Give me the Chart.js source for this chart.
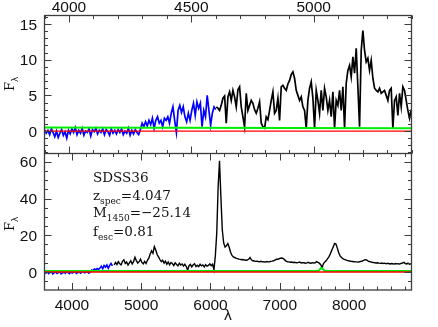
<!DOCTYPE html>
<html>
<head>
<meta charset="utf-8">
<title>SDSS36 spectrum</title>
<script src="https://cdn.jsdelivr.net/npm/chart.js@4.4.1/dist/chart.umd.min.js"></script>
<style>
  html, body { margin: 0; padding: 0; background: #fff; }
  #wrap { position: relative; width: 438px; height: 327px; overflow: hidden; background: #fff; }
  #wrap canvas { position: absolute; left: 0; }
  #top-chart { top: 0; }
  #bottom-chart { top: 153px; }
</style>
</head>
<body>
<div id="wrap">
  <canvas id="top-chart" width="438" height="154"></canvas>
  <canvas id="bottom-chart" width="438" height="174"></canvas>
</div>
<script>
// tick labels
const topXTicks = [4000, 4500, 5000];
const topYTicks = [0, 5, 10, 15];
const botXTicks = [4000, 5000, 6000, 7000, 8000];
const botYTicks = [0, 20, 40, 60];

// top panel (zoom on the Lyman limit region)
const topBlueStart = 3900, topBlueStep = 7;
const topBlueFlux = [
    0.2, -0.3, 0.1, -0.5, 0.3, -0.2, -0.8, 0.0, -0.9, -0.3, 0.2, -0.6, -0.1, -1.0, 0.1,
    -0.4, 0.3, -0.2, 0.5, -0.5, 0.1, -0.3, 0.4, -0.6, 0.0, -0.2, 0.3, -0.7, 0.2, -0.1,
    0.4, -0.4, 0.1, -0.2, 0.3, -0.5, 0.2, -0.1, -0.6, 0.3, -0.3, 0.1, -0.4, 0.2, -0.2,
    0.3, -0.5, 0.0, -0.3, 0.4, -0.6, 0.1, -0.4, 0.2, -0.2, -0.5, 0.2,
    1.1, 0.6, 1.3, 0.7, 1.5, 0.9, 1.8, 0.4, 1.5, 2.0, 1.1, 1.5, 0.6, 1.8, 1.5,
    2.0, 1.1, 2.5, 3.4, 1.5, -0.2, 2.9, 3.6, 2.6, 3.4, 2.0, 1.3, 2.5, 1.5, 2.9,
    3.9, 2.2, 4.1, 3.2, 3.9, 0.6, 2.9, 2.0, 5.0, 2.9, 0.8, 2.5, 3.4, 3.0
];
const topBlackStart = 4602, topBlackStep = 6.81;
const topBlackFlux = [
    3.4, 3.2, 2.9, 3.6, 4.6, 4.9, 1.1, 4.8, 5.5, 4.3, 5.7, 4.8, 3.4, 5.8, 6.2, 3.4, 2.0,
    0.6, 5.3, 2.9, 3.6, 4.3, 3.9, 3.0, 2.5, 3.2, 4.1, 1.1, 0.6, 0.4, 2.0, 1.6, 2.9, 4.3, 5.5, 2.5, 2.9,
    4.6, 1.5, 6.2, 6.4, 6.0, 5.7, 6.6, 7.1, 7.9, 8.3, 7.4, 5.7, 5.0, 4.3, 4.8, 3.4, 2.9, 0.4, 4.3, 6.0,
    6.9, 4.6, 0.4, 5.7, 4.3, 2.5, 5.7, 2.9, 6.0, 4.8, 2.9, 4.3, 2.0, 5.5, 0.4, 4.3, 3.6, 5.7, 2.9, 6.2,
    0.4, 6.7, 8.5, 9.2, 7.6, 10.4, 8.1, 11.6, 6.2, 0.6, 11.3, 14.1, 11.3, 9.7, 10.2, 8.5, 9.9, 7.4, 6.0, 5.7,
    5.5, 6.0, 5.3, 5.5, 5.7, 5.0, 4.3, 5.7, 6.0, 0.4, 4.3, 4.8, 2.2, 5.3, 3.4, 6.2, 5.7, 4.3, 2.9, 1.8, 3.0
];
const topGreenWave = [3900, 5400];
const topGreenFlux = [0.48, 0.38];

// bottom panel (full spectrum)
const botBlueStart = 3605, botBlueStep = 20;
const botBlueFlux = [
    0.4, -0.6, 0.2, -0.9, -0.2, 0.3, -1.1, -0.4, 0.1, -0.8, -0.3, 0.2, -1.0, -0.5, 0.0, -0.7, 0.3,
    -0.4, -0.9, 0.1, -0.6, -0.2, 0.2, -0.8, -0.3, 0.1, -0.7, -0.1, 0.3, -0.5, -0.2, 0.1, -0.6, 0.0,
    1.0, 0.8, 1.6, 1.2, 1.9, 1.4, 2.2, 3.2, 1.8, 3.5, 2.6, 3.8, 2.0, 3.6, 4.6, 3.3
];
const botBlackStart = 4610, botBlackStep = 20;
const botBlackFlux = [
    3.8, 5.2, 4.0, 5.6, 4.5,
    3.9, 5.8, 6.6, 4.6, 5.4, 3.8, 5.0, 6.1, 4.4, 5.6,
    8.0,
    6.2, 4.8, 5.6, 7.0, 5.2, 4.4, 5.8, 4.6, 6.4,
    7.5, 9.8, 11.5, 10.2, 13.8, 12.0, 9.5, 8.2, 6.8,
    5.6, 6.4, 4.8, 5.9, 4.2, 5.5, 3.9, 5.2, 4.6, 3.5, 5.0, 4.1, 3.4, 4.8, 3.8, 4.4, 3.2, 4.2, 3.0,
    1.0,
    3.4, 4.1, 2.8, 3.9, 4.5, 3.0, 3.7, 2.9, 4.2, 3.3, 3.8, 2.7, 4.0, 3.2, 3.6, 4.4, 3.4, 4.2,
    1.2, 9.0, 21.0, 46.0, 60.5, 41.0, 23.0, 15.8, 13.6, 14.3, 15.5, 13.5, 10.8, 9.0,
    8.2, 7.9, 7.4, 7.3, 7.0, 6.9, 6.7, 6.8, 6.5, 6.4, 6.5, 6.9,
    7.9, 6.6,
    6.1, 6.0, 5.8, 5.9, 5.7, 5.6, 5.8, 5.5, 5.6, 5.4, 5.7, 5.5, 5.6, 5.8, 5.9, 6.1, 6.5, 6.9,
    6.9, 7.2, 7.5, 7.6, 7.3, 6.6, 5.9, 5.6,
    5.5, 5.3, 5.4, 5.2, 5.3, 5.1, 5.0, 5.2, 5.4, 4.9, 5.1, 5.0, 4.8, 5.0, 5.3, 4.9, 4.8, 5.1, 4.9, 5.0, 5.6, 5.2, 4.8, 4.0,
    2.4, 4.6,
    5.5, 6.2, 7.3, 8.4, 10.0, 11.8, 13.6,
    15.5, 15.2, 13.0, 10.5, 8.8,
    7.9, 7.3, 6.9, 6.6, 6.3, 6.1, 6.0, 5.8, 5.7, 5.6, 5.5,
    5.5, 5.4, 5.6, 5.8, 6.0, 6.3, 6.7, 6.6, 6.1, 5.7, 5.5,
    5.3, 5.2, 5.0, 4.9, 5.0, 4.8, 4.7, 4.9, 4.6, 4.8, 4.5, 4.7, 4.6, 4.4, 4.6,
    4.5, 4.3, 4.6, 4.4, 4.5, 4.3, 4.7, 4.9, 5.3, 4.6, 4.4, 4.8, 4.2, 4.5
];
const botGreenWave = [3605, 7560, 7595, 7615, 7650, 8900];
const botGreenFlux = [0.5, 0.6, 2.2, 1.8, 0.6, 0.6];

const zeroWave = [3600, 8900];
const zeroFlux = [0, 0];

const labelLines = [
    [['SDSS36', 'm']],
    [['z', 'm'], ['spec', 's'], ['=4.047', 'm']],
    [['M', 'm'], ['1450', 's'], ['=\u221225.14', 'm']],
    [['f', 'm'], ['esc', 's'], ['=0.81', 'm']]
];

const frameColor = '#3c3c3c';
const tickFont = '15.5px "Liberation Sans", Arial, sans-serif';
const serifFont = '13.5px "DejaVu Serif", "Liberation Serif", serif';
const subFont = '9px "DejaVu Serif", "Liberation Serif", serif';

function toPoints(start, step, flux) {
    return flux.map((f, i) => ({ x: start + i * step, y: f }));
}

function pairPoints(wave, flux) {
    return wave.map((w, i) => ({ x: w, y: flux[i] }));
}

function lineSet(data, color, width) {
    return {
        data: data,
        borderColor: color,
        borderWidth: width,
        pointRadius: 0,
        tension: 0,
        fill: false,
        clip: 0
    };
}

function rangeSteps(lo, hi, step) {
    const out = [];
    for (let v = Math.ceil(lo / step) * step; v <= hi; v += step) out.push(v);
    return out;
}

// frame, inward ticks, tick labels and titles
function makeFrame(cfg) {
    return {
        id: 'frame',
        afterDraw(chart) {
            const ctx = chart.ctx;
            const a = chart.chartArea;
            const xs = chart.scales.x;
            const ys = chart.scales.y;
            ctx.save();
            ctx.strokeStyle = frameColor;
            ctx.lineWidth = 1;

            const seg = (x1, y1, x2, y2) => {
                ctx.beginPath();
                ctx.moveTo(x1, y1);
                ctx.lineTo(x2, y2);
                ctx.stroke();
            };

            const xMinor = rangeSteps(xs.min, xs.max, cfg.xMinorStep);
            xMinor.forEach(v => {
                const major = cfg.xMajor.includes(v);
                const len = major ? 7 : 3.5;
                const px = Math.round(xs.getPixelForValue(v)) + 0.5;
                seg(px, a.top, px, a.top + len);
                seg(px, a.bottom, px, a.bottom - len);
            });
            const yMinor = rangeSteps(ys.min, ys.max, cfg.yMinorStep);
            yMinor.forEach(v => {
                const major = cfg.yMajor.includes(v);
                const len = major ? 7 : 3.5;
                const py = Math.round(ys.getPixelForValue(v)) + 0.5;
                seg(a.left, py, a.left + len, py);
                seg(a.right, py, a.right - len, py);
            });

            ctx.lineWidth = 1.3;
            ctx.strokeRect(a.left, a.top, a.right - a.left, a.bottom - a.top);

            // tick labels
            ctx.fillStyle = '#111';
            ctx.font = tickFont;
            ctx.textAlign = 'center';
            ctx.textBaseline = 'alphabetic';
            cfg.xMajor.forEach(v => {
                ctx.fillText(String(v), xs.getPixelForValue(v), cfg.xLabelY);
            });
            ctx.textAlign = 'right';
            cfg.yMajor.forEach(v => {
                ctx.fillText(String(v), a.left - 7.5, ys.getPixelForValue(v) + 5.6);
            });

            // y title F_lambda
            ctx.save();
            ctx.translate(14, cfg.yTitleY);
            ctx.rotate(-Math.PI / 2);
            ctx.textAlign = 'left';
            ctx.font = '13px "DejaVu Serif", "Liberation Serif", serif';
            ctx.fillText('F', -6, 0);
            const fw = ctx.measureText('F').width;
            ctx.font = '9px "DejaVu Sans", sans-serif';
            ctx.fillText('\u03bb', -6 + fw, 3.5);
            ctx.restore();

            if (cfg.xTitle) {
                ctx.textAlign = 'center';
                ctx.font = '14px "DejaVu Sans", sans-serif';
                ctx.fillText('\u03bb', (a.left + a.right) / 2, cfg.xTitleY);
            }

            if (cfg.note) {
                ctx.textAlign = 'left';
                cfg.note.forEach((parts, k) => {
                    let x = 93;
                    const y = cfg.noteY[k];
                    parts.forEach(([t, kind]) => {
                        ctx.font = kind === 's' ? subFont : serifFont;
                        ctx.fillText(t, x, kind === 's' ? y + 3.5 : y);
                        x += ctx.measureText(t).width;
                    });
                });
            }
            ctx.restore();
        }
    };
}

function hiddenScale(extra) {
    return Object.assign({
        type: 'linear',
        grid: { display: false, drawTicks: false },
        border: { display: false },
        ticks: { display: false }
    }, extra);
}

const commonOptions = {
    responsive: false,
    animation: false,
    events: [],
    plugins: { legend: { display: false }, tooltip: { enabled: false } }
};

// top panel
new Chart(document.getElementById('top-chart'), {
    type: 'line',
    data: {
        datasets: [
            lineSet(pairPoints(zeroWave, zeroFlux), '#ff0000', 1.3),
            lineSet(pairPoints(topGreenWave, topGreenFlux), '#00ee00', 2),
            lineSet(toPoints(topBlueStart, topBlueStep, topBlueFlux), '#0000ff', 1.7),
            lineSet(toPoints(topBlackStart, topBlackStep, topBlackFlux), '#000000', 1.7)
        ]
    },
    options: Object.assign({}, commonOptions, {
        layout: { padding: { top: 0, right: 26.5, bottom: 0.5, left: 0 } },
        scales: {
            x: hiddenScale({ position: 'top', min: 3900, max: 5400, afterFit(s) { s.height = 15.5; } }),
            y: hiddenScale({ position: 'left', min: -3.15, max: 16.2, afterFit(s) { s.width = 44.5; } })
        }
    }),
    plugins: [makeFrame({
        xMajor: topXTicks, xMinorStep: 100,
        yMajor: topYTicks, yMinorStep: 1,
        xLabelY: 11.5, yTitleY: 85
    })]
});

// bottom panel
new Chart(document.getElementById('bottom-chart'), {
    type: 'line',
    data: {
        datasets: [
            lineSet(pairPoints(zeroWave, zeroFlux), '#ff0000', 1.3),
            lineSet(pairPoints(botGreenWave, botGreenFlux), '#00ee00', 2),
            lineSet(toPoints(botBlueStart, botBlueStep, botBlueFlux), '#0000ff', 1.6),
            lineSet(toPoints(botBlackStart, botBlackStep, botBlackFlux), '#000000', 1.4)
        ]
    },
    options: Object.assign({}, commonOptions, {
        layout: { padding: { top: 0.5, right: 26.5, bottom: 0, left: 0 } },
        scales: {
            x: hiddenScale({ position: 'bottom', min: 3605, max: 8900, afterFit(s) { s.height = 37; } }),
            y: hiddenScale({ position: 'left', min: -9.8, max: 64.5, afterFit(s) { s.width = 44.5; } })
        }
    }),
    plugins: [makeFrame({
        xMajor: botXTicks, xMinorStep: 200,
        yMajor: botYTicks, yMinorStep: 5,
        xLabelY: 157, yTitleY: 72,
        xTitle: true, xTitleY: 166.5,
        note: labelLines, noteY: [28.7, 47, 64.3, 83]
    })]
});
</script>
</body>
</html>
